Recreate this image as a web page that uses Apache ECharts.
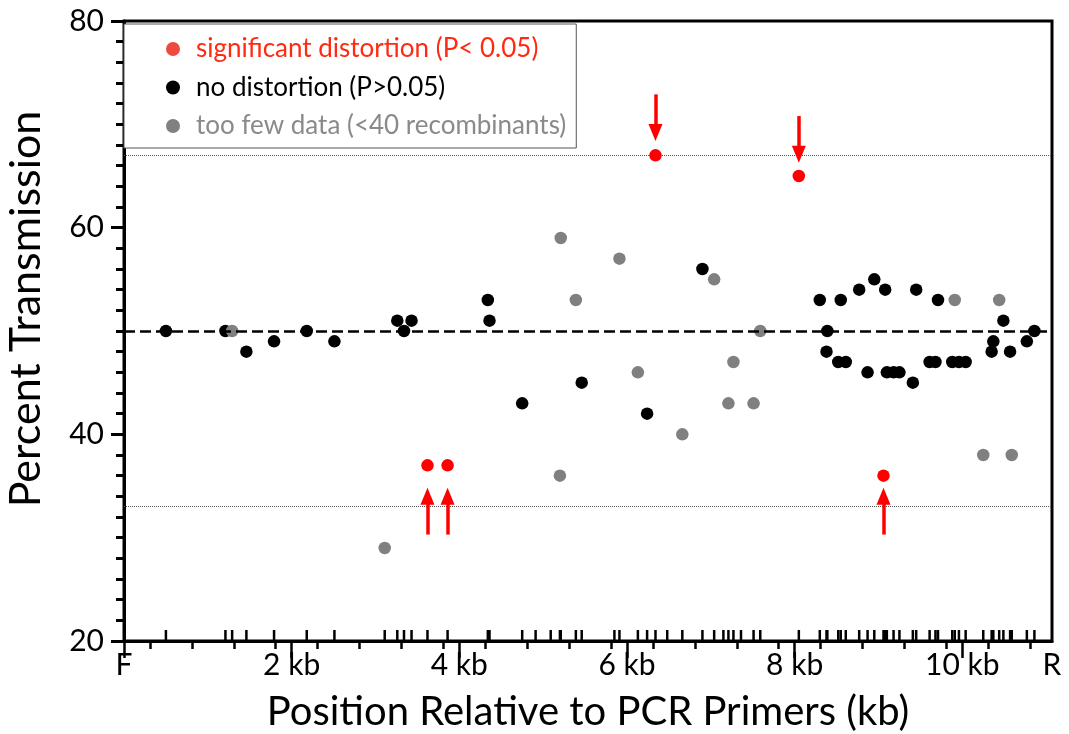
<!DOCTYPE html>
<html lang="en">
<head>
<meta charset="UTF-8">
<title>Percent Transmission</title>
<script src="https://cdn.jsdelivr.net/npm/echarts@6/dist/echarts.min.js"></script>
<style>
    html, body { margin: 0; padding: 0; background: #fff; }
    #chart { width: 1069px; height: 734px; }
</style>
</head>
<body>
<div id="chart"></div>
<script>
    // [position (kb), percent transmission]
    var significant = [[3.62, 37], [3.86, 37], [6.34, 67], [8.05, 65], [9.06, 36]];
    var noDistortion = [
        [0.50, 50], [1.21, 50], [1.46, 48], [1.79, 49], [2.18, 50], [2.51, 49],
        [3.26, 51], [3.34, 50], [3.43, 51], [4.34, 53], [4.36, 51], [4.75, 43],
        [5.46, 45], [6.24, 42], [6.90, 56], [8.30, 53], [8.38, 48], [8.39, 50],
        [8.52, 47], [8.55, 53], [8.61, 47], [8.77, 54], [8.87, 46], [8.95, 55],
        [9.08, 54], [9.10, 46], [9.18, 46], [9.25, 46], [9.41, 45], [9.45, 54],
        [9.61, 47], [9.68, 47], [9.71, 53], [9.88, 47], [9.96, 47], [10.04, 47],
        [10.35, 48], [10.37, 49], [10.49, 51], [10.57, 48], [10.77, 49], [10.86, 50]
    ];
    var tooFew = [
        [1.29, 50], [3.11, 29], [5.20, 36], [5.21, 59], [5.39, 53], [5.91, 57],
        [6.13, 46], [6.66, 40], [7.04, 55], [7.21, 43], [7.27, 47], [7.51, 43],
        [7.59, 50], [9.91, 53], [10.25, 38], [10.44, 53], [10.59, 38]
    ];
    // markers on the axis that have no point drawn
    var extraMarkers = [4.91, 5.09, 5.85, 6.48, 7.15, 7.36];

    var xEnd = 11.07;
    var kbTicks = [0, 2, 4, 6, 8, 10];
    var minorTicks = [0.31, 0.81, 1.31, 1.81, 2.31, 2.81, 3.31, 3.81, 4.31, 4.81, 5.31,
        5.81, 6.31, 6.81, 7.31, 7.81, 8.31, 8.81, 9.31, 9.81, 10.31, 10.81];
    var xLabelValues = [0, 2, 4, 6, 8, 10, 11.07];
    var xLabelText = ['F', '2 kb', '4 kb', '6 kb', '8 kb', '10 kb', 'R'];

    var meanLine = 50;
    var cutLines = [33, 67];

    // arrows: position, tail value, head value
    var arrowKb = [3.62, 3.86, 9.06, 6.34, 8.05];
    var arrowFrom = [30.3, 30.3, 30.3, 72.9, 70.8];
    var arrowTo = [34.0, 34.0, 34.0, 69.2, 67.1];

    var FONT = 'Lato';

    var rug = [];
    [significant, noDistortion, tooFew].forEach(function (s) {
        s.forEach(function (p) { rug.push([p[0], 20]); });
    });
    extraMarkers.forEach(function (x) { rug.push([x, 20]); });

    var arrowLines = arrowKb.map(function (x, i) {
        return [{ coord: [x, arrowFrom[i]] }, { coord: [x, arrowTo[i]] }];
    });

    var myChart = echarts.init(document.getElementById('chart'));
    var option = {
        backgroundColor: '#fff',
        animation: false,
        textStyle: { fontFamily: FONT },
        grid: {
            left: 124, right: 17, top: 21, bottom: 93,
            outerBoundsMode: 'none',
            show: true, borderColor: '#000', borderWidth: 3
        },
        legend: {
            orient: 'vertical',
            left: 124, top: 24,
            padding: [12, 10, 9, 42],
            itemWidth: 36, itemHeight: 14, itemGap: 12.5,
            icon: 'circle',
            borderColor: '#555', borderWidth: 1,
            backgroundColor: '#fff',
            textStyle: { fontFamily: FONT, fontSize: 26 },
            data: [
                { name: 'significant distortion (P< 0.05)', textStyle: { color: '#ff2a12' }, itemStyle: { color: '#ef4a3f' } },
                { name: 'no distortion (P>0.05)', textStyle: { color: '#000' } },
                { name: 'too few data (<40 recombinants)', textStyle: { color: '#8a8a8a' } }
            ]
        },
        xAxis: [{
            type: 'value',
            min: 0, max: xEnd,
            name: 'Position Relative to PCR Primers (kb)',
            nameLocation: 'middle',
            nameGap: 51,
            nameTextStyle: { fontSize: 40, color: '#000', fontFamily: FONT },
            axisLine: { show: true, lineStyle: { color: '#000', width: 3 } },
            axisTick: { show: true, customValues: kbTicks, length: 17, lineStyle: { color: '#000', width: 2.5 } },
            axisLabel: {
                customValues: xLabelValues,
                margin: 9,
                fontSize: 30, color: '#000', fontFamily: FONT,
                formatter: function (v) {
                    var i = xLabelValues.indexOf(v);
                    return i >= 0 ? xLabelText[i] : '';
                }
            },
            splitLine: { show: false }
        }, {
            type: 'value',
            min: 0, max: xEnd,
            position: 'bottom',
            axisLine: { show: false },
            axisTick: { show: true, customValues: minorTicks, length: 8, lineStyle: { color: '#000', width: 2.5 } },
            axisLabel: { show: false },
            splitLine: { show: false }
        }],
        yAxis: {
            type: 'value',
            min: 20, max: 80, interval: 20,
            name: 'Percent Transmission',
            nameLocation: 'middle',
            nameRotate: 90,
            nameGap: 76,
            nameTextStyle: { fontSize: 43, color: '#000', fontFamily: FONT, padding: [0, 0, 0, 44] },
            axisLine: { show: true, lineStyle: { color: '#000', width: 3 } },
            axisTick: { show: true, length: 13, lineStyle: { color: '#000', width: 3 } },
            minorTick: { show: true, splitNumber: 10, length: 8, lineStyle: { color: '#000', width: 3 } },
            axisLabel: { margin: 20, fontSize: 30, color: '#000', fontFamily: FONT },
            splitLine: { show: false }
        },
        series: [{
            name: 'markers',
            type: 'scatter',
            data: rug,
            symbol: 'rect',
            symbolSize: [2.5, 11],
            symbolOffset: [0, -5.5],
            itemStyle: { color: '#000', opacity: 1 },
            silent: true,
            clip: false,
            z: 1,
            markLine: {
                silent: true,
                symbol: 'none',
                label: { show: false },
                data: [
                    { yAxis: meanLine, lineStyle: { type: [11, 5], width: 2.5, color: '#000' } },
                    { yAxis: cutLines[0], lineStyle: { type: [1, 1], width: 1, color: '#555' } },
                    { yAxis: cutLines[1], lineStyle: { type: [1, 1], width: 1, color: '#555' } }
                ]
            }
        }, {
            name: 'no distortion (P>0.05)',
            type: 'scatter',
            data: noDistortion,
            symbolSize: 12.5,
            itemStyle: { color: '#000', opacity: 1 },
            z: 3
        }, {
            name: 'too few data (<40 recombinants)',
            type: 'scatter',
            data: tooFew,
            symbolSize: 12.5,
            itemStyle: { color: '#808080', opacity: 1 },
            z: 4
        }, {
            name: 'significant distortion (P< 0.05)',
            type: 'scatter',
            data: significant,
            symbolSize: 12.5,
            itemStyle: { color: '#ff0000', opacity: 1 },
            z: 5,
            markLine: {
                silent: true,
                symbol: ['none', 'triangle'],
                symbolSize: [14, 17],
                label: { show: false },
                lineStyle: { type: 'solid', width: 3.5, color: '#ff0000' },
                data: arrowLines
            }
        }]
    };
    myChart.setOption(option);
</script>
</body>
</html>
